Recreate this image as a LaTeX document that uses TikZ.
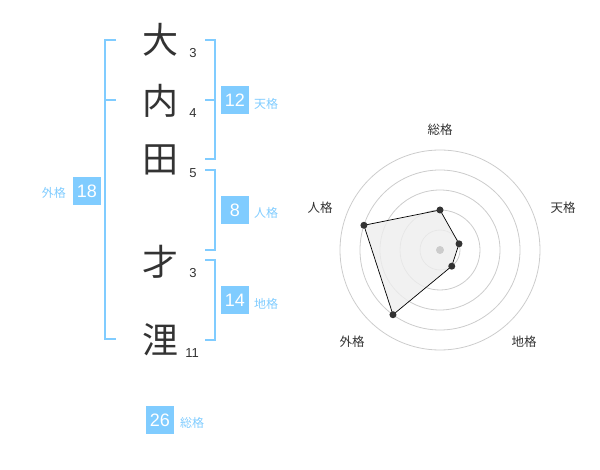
\documentclass[tikz,border=0pt]{standalone}
\usepackage{fontspec}
\setmainfont{Liberation Sans}
\newfontfamily\jpfont{Noto Sans CJK JP}
\usetikzlibrary{calc}
\definecolor{skyblue}{HTML}{80CCFF}
\definecolor{inkgray}{HTML}{333333}
\definecolor{ringgray}{HTML}{CCCCCC}
\definecolor{fillgray}{HTML}{EEEEEE}
\tikzset{
  kanji/.style={font=\jpfont\fontsize{36}{36}\selectfont, text=inkgray, inner sep=0pt},
  strokes/.style={font=\fontsize{13}{13}\selectfont, text=inkgray, inner sep=0pt},
  valbox/.style={fill=skyblue, text=white, font=\fontsize{18}{18}\selectfont, minimum size=28pt, inner sep=0pt},
  kaku/.style={text=skyblue, font=\jpfont\fontsize{12}{12}\selectfont, inner sep=0pt},
  brace/.style={draw=skyblue, line width=2pt},
  axislabel/.style={text=inkgray, font=\jpfont\fontsize{12.5}{12.5}\selectfont, inner sep=0pt},
}

\begin{document}
\begin{tikzpicture}[line cap=butt,line join=miter,x=1pt,y=-1pt]
\useasboundingbox (0,0) rectangle (600,470);
% name column
\node[kanji] (c1) at (160,40) {大};
\node[kanji] (c2) at (160,101) {内};
\node[kanji] (c3) at (160,160) {田};
\node[kanji] (c4) at (160,262) {才};
\node[kanji] (c5) at (160,340) {浬};
\node[strokes] (s1) at (193,53) {3};
\node[strokes] (s2) at (193,113) {4};
\node[strokes] (s3) at (193,173) {5};
\node[strokes] (s4) at (193,273) {3};
\node[strokes] (s5) at (192,353) {11};
% brackets
\draw[brace] (116,40) -| (105,339) -- (116,339);
\draw[brace] (105,100) -- (116,100);
\draw[brace] (205,40) -| (215,159) -- (205,159);
\draw[brace] (205,100) -- (215,100);
\draw[brace] (205,170) -| (215,250) -- (205,250);
\draw[brace] (205,260) -| (215,340) -- (205,340);
% values
\node[valbox] (ten) at (235,100) {12};
\node[kaku, anchor=west] (tenl) at (254,104) {天格};
\node[valbox] (jin) at (235,210) {8};
\node[kaku, anchor=west] (jinl) at (254,213) {人格};
\node[valbox] (chi) at (235,300) {14};
\node[kaku, anchor=west] (chil) at (254,304) {地格};
\node[valbox] (gai) at (87,191) {18};
\node[kaku, anchor=east] (gail) at (66,193) {外格};
\node[valbox] (sou) at (160,420) {26};
\node[kaku, anchor=west] (soul) at (180,423) {総格};
% radar
\begin{scope}[shift={(440,250)},yscale=-1]
\foreach \r in {20,40,...,100}
  \draw[ringgray, line width=0.8pt] (0,0) circle (\r pt);
\coordinate (psou) at (90:40);
\coordinate (pten) at (18:20);
\coordinate (pchi) at (-54:20);
\coordinate (pgai) at (-126:80);
\coordinate (pjin) at (162:80);
\draw[fill=fillgray, fill opacity=0.8, draw=black, line width=0.7pt] (psou) -- (pten) -- (pchi) -- (pgai) -- (pjin) -- cycle;
\fill[ringgray] (0,0) circle (4pt);
\foreach \p in {psou,pten,pchi,pgai,pjin}
  \fill[inkgray] (\p) circle (3.5pt);
\node[axislabel] (asou) at (0,120) {総格};
\node[axislabel] (aten) at (123,42) {天格};
\node[axislabel] (ajin) at (-120,42) {人格};
\node[axislabel] (agai) at (-88,-92) {外格};
\node[axislabel] (achi) at (84,-92) {地格};
\end{scope}
\end{tikzpicture}
\end{document}
